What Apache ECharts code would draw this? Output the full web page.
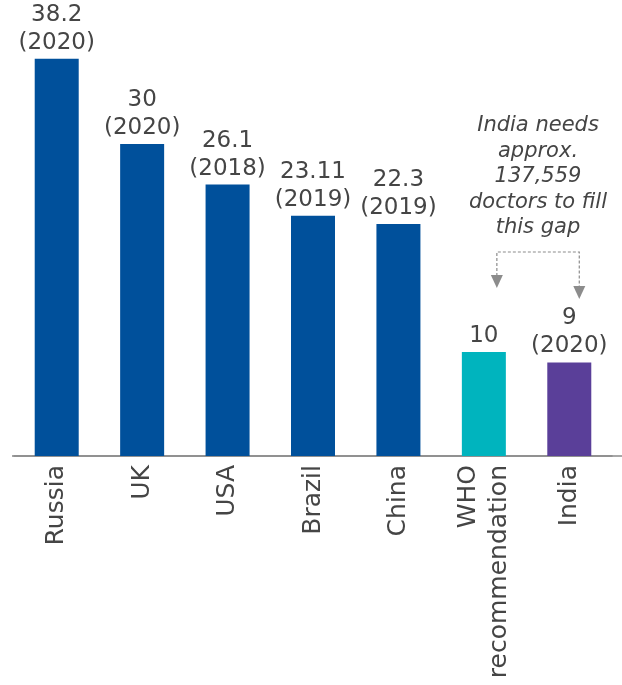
<!DOCTYPE html>
<html>
<head>
<meta charset="utf-8">
<script src="https://cdn.jsdelivr.net/npm/echarts@6/dist/echarts.min.js"></script>
<style>
  html, body { margin: 0; padding: 0; background: #fff; }
  #chart { width: 622px; height: 685px; }
</style>
</head>
<body>
<div id="chart"></div>
<script>
// 数据
const categories = ['Russia', 'UK', 'USA', 'Brazil', 'China', 'WHO\nrecommendation', 'India'];
const values = [38.2, 30, 26.1, 23.11, 22.3, 10, 9];
const years = ['2020', '2020', '2018', '2019', '2019', '', '2020'];
const barColors = ['#00509b', '#00509b', '#00509b', '#00509b', '#00509b', '#00b4be', '#5a3f99'];
const noteLines = ['India needs', 'approx.', '137,559', 'doctors to fill', 'this gap'];

const chart = echarts.init(document.getElementById('chart'));
const textColor = '#454545';
const font = '"DejaVu Sans", Verdana, sans-serif';

const option = {
  animation: false,
  grid: { left: 14, right: 10, top: 40, bottom: 229 },
  xAxis: {
    type: 'category',
    data: categories,
    axisLine: { lineStyle: { color: '#8a8a8a', width: 1.5 } },
    axisTick: { show: false },
    axisLabel: {
      rotate: 90,
      margin: 9,
      fontFamily: font,
      fontSize: 25,
      lineHeight: 31,
      color: textColor,
      interval: 0
    }
  },
  yAxis: {
    type: 'value',
    min: 0,
    max: 40,
    show: false,
    splitLine: { show: false }
  },
  series: [{
    type: 'bar',
    barWidth: 44,
    data: values.map((v, i) => ({ value: v, itemStyle: { color: barColors[i] } })),
    label: {
      show: true,
      position: 'top',
      distance: 2,
      fontFamily: font,
      fontSize: 23,
      lineHeight: 28,
      color: textColor,
      formatter: p => years[p.dataIndex] ? p.value + '\n(' + years[p.dataIndex] + ')' : String(p.value)
    }
  }]
};
chart.setOption(option);

// 注释与箭头
const xWho = chart.convertToPixel({ xAxisIndex: 0 }, categories[5]);
const xIndia = chart.convertToPixel({ xAxisIndex: 0 }, categories[6]);
const lx = xWho + 13, rx = xIndia + 10, topY = 252;
const gray = '#8c8c8c';
chart.setOption({
  graphic: [
    {
      type: 'line',
      shape: { x1: 12, y1: 456, x2: 622, y2: 456 },
      style: { stroke: '#8a8a8a', lineWidth: 1.5 },
      z: 0
    },
    {
      type: 'text',
      x: 538, y: 113,
      style: {
        text: noteLines.join('\n'),
        fontFamily: font,
        fontStyle: 'italic',
        fontSize: 21,
        lineHeight: 25.5,
        fill: textColor,
        align: 'center',
        verticalAlign: 'top'
      }
    },
    {
      type: 'polyline',
      shape: { points: [[lx, 276], [lx, topY], [rx, topY], [rx, 287]] },
      style: { stroke: gray, lineWidth: 1.2, lineDash: [3, 2], fill: null }
    },
    {
      type: 'polygon',
      shape: { points: [[lx - 6, 275], [lx + 6, 275], [lx, 288]] },
      style: { fill: gray }
    },
    {
      type: 'polygon',
      shape: { points: [[rx - 6, 286], [rx + 6, 286], [rx, 299]] },
      style: { fill: gray }
    }
  ]
});
</script>
</body>
</html>
